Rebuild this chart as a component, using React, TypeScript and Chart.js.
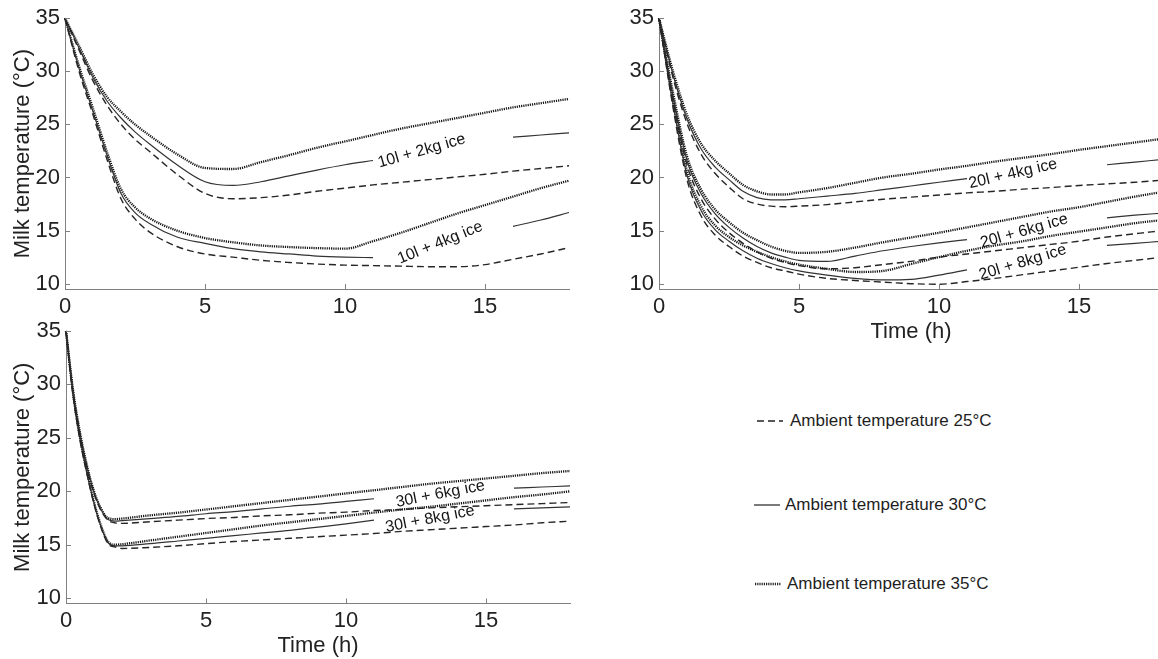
import React, { useEffect, useRef } from 'react';
import { Chart, registerables } from 'chart.js';

Chart.register(...registerables);

const FONT = "'Liberation Sans', Arial, Helvetica, sans-serif";

// ---------- shared axis ticks ----------
const xTickValues = [0, 5, 10, 15];
const yTickValues = [10, 15, 20, 25, 30, 35];

// ---------- Top-left panel: 10 l milk ----------
const timeA = [0, 0.5, 1, 1.5, 2, 2.5, 3, 4, 5, 6, 7, 8, 9, 10, 11, 12, 13, 14, 15, 16, 17, 18];
const a2kg35 = [35, 32.4, 29.7, 27.6, 26.2, 25.0, 24.0, 22.2, 20.9, 20.8, 21.45, 22.1, 22.8, 23.4, 24.0, 24.6, 25.1, 25.6, 26.1, 26.6, 27.0, 27.4];
const a2kg30 = [35, 32.2, 29.4, 27.2, 25.6, 24.3, 23.2, 21.2, 19.6, 19.25, 19.6, 20.15, 20.7, 21.2, 21.6, null, null, null, null, 23.8, 24.0, 24.2];
const a2kg25 = [35, 32.0, 29.1, 26.8, 25.0, 23.6, 22.5, 20.3, 18.5, 18.0, 18.1, 18.35, 18.7, 19.0, 19.3, 19.55, 19.8, 20.05, 20.3, 20.6, 20.85, 21.1];
const a4kg35 = [35, 30.5, 26.5, 22.4, 18.9, 17.2, 16.2, 15.0, 14.3, 13.9, 13.6, 13.45, 13.35, 13.3, 14.0, 14.8, 15.7, 16.6, 17.4, 18.2, 19.0, 19.7];
const a4kg30 = [35, 30.3, 26.2, 22.1, 18.5, 16.7, 15.7, 14.4, 13.8, 13.3, 13.0, 12.8, 12.6, 12.5, 12.45, null, null, null, null, 15.4, 16.0, 16.7];
const a4kg25 = [35, 30.0, 25.9, 21.7, 18.0, 16.1, 14.9, 13.5, 12.8, 12.5, 12.2, 12.0, 11.85, 11.75, 11.7, 11.65, 11.6, 11.6, 11.8, 12.3, 12.8, 13.4];

// ---------- Top-right panel: 20 l milk ----------
const timeB = [0, 0.5, 1, 1.5, 2, 2.5, 3, 3.5, 4, 4.5, 5, 6, 7, 8, 9, 10, 11, 12, 13, 14, 15, 16, 17, 18];
const b4kg35 = [35, 30.0, 25.9, 23.2, 21.6, 20.4, 19.3, 18.7, 18.4, 18.4, 18.6, 19.0, 19.5, 20.0, 20.35, 20.75, 21.1, 21.5, 21.85, 22.2, 22.6, 22.95, 23.3, 23.65];
const b4kg30 = [35, 29.7, 25.5, 22.7, 21.0, 19.8, 18.7, 18.1, 17.9, 17.9, 18.0, 18.25, 18.5, 18.85, 19.2, 19.55, 19.9, null, null, null, null, 21.2, 21.45, 21.7];
const b4kg25 = [35, 29.4, 25.1, 22.2, 20.4, 19.1, 18.0, 17.5, 17.3, 17.25, 17.3, 17.45, 17.7, 17.95, 18.15, 18.35, 18.55, 18.7, 18.9, 19.05, 19.25, 19.4, 19.55, 19.75];
const b6kg35 = [35, 28.0, 22.0, 18.9, 17.0, 15.8, 14.8, 14.1, 13.5, 13.1, 12.9, 13.0, 13.4, 13.9, 14.35, 14.8, 15.3, 15.8, 16.3, 16.8, 17.2, 17.7, 18.2, 18.65];
const b6kg30 = [35, 27.7, 21.6, 18.5, 16.6, 15.3, 14.3, 13.5, 12.9, 12.5, 12.2, 12.1, 12.6, 13.1, 13.5, 13.85, 14.15, null, null, null, null, 16.2, 16.45, 16.65];
const b6kg25 = [35, 27.3, 21.2, 18.0, 16.1, 14.8, 13.8, 13.0, 12.4, 12.0, 11.7, 11.4, 11.5, 11.8, 12.1, 12.5, 12.8, 13.1, 13.4, 13.7, 14.0, 14.4, 14.7, 15.0];
const b8kg35 = [35, 27.2, 20.6, 17.3, 15.5, 14.4, 13.6, 13.0, 12.5, 12.1, 11.8, 11.4, 11.1, 11.2, 11.85, 12.5, 13.1, 13.6, 14.0, 14.5, 14.9, 15.3, 15.7, 16.0];
const b8kg30 = [35, 26.9, 20.2, 16.9, 15.1, 14.0, 13.1, 12.4, 11.9, 11.5, 11.2, 10.8, 10.5, 10.35, 10.4, 10.8, 11.3, null, null, null, null, 13.6, 13.8, 14.0];
const b8kg25 = [35, 26.6, 19.8, 16.4, 14.6, 13.5, 12.6, 12.0, 11.5, 11.2, 10.9, 10.5, 10.3, 10.15, 10.0, 9.95, 10.2, 10.5, 10.85, 11.2, 11.55, 11.9, 12.2, 12.5];

// ---------- Bottom panel: 30 l milk ----------
const timeC = [0, 0.25, 0.5, 0.75, 1, 1.25, 1.5, 1.75, 2, 3, 4, 5, 6, 7, 8, 9, 10, 11, 12, 13, 14, 15, 16, 17, 18];
const c6kg35 = [35, 29.5, 25.5, 22.4, 20.0, 18.4, 17.5, 17.4, 17.45, 17.75, 18.0, 18.3, 18.6, 18.9, 19.2, 19.5, 19.8, 20.1, 20.4, 20.7, 20.95, 21.2, 21.45, 21.7, 21.9];
const c6kg30 = [35, 29.4, 25.4, 22.3, 19.9, 18.3, 17.35, 17.2, 17.25, 17.45, 17.65, 17.9, 18.1, 18.35, 18.6, 18.8, 19.05, 19.3, null, null, null, null, 20.3, 20.4, 20.5];
const c6kg25 = [35, 29.3, 25.3, 22.2, 19.8, 18.2, 17.3, 17.05, 17.0, 17.15, 17.3, 17.45, 17.55, 17.7, 17.8, 17.95, 18.05, 18.2, 18.3, 18.45, 18.55, 18.65, 18.75, 18.85, 18.95];
const c8kg35 = [35, 29.2, 25.0, 21.8, 19.0, 16.8, 15.3, 15.0, 15.05, 15.4, 15.75, 16.1, 16.45, 16.8, 17.1, 17.4, 17.7, 18.0, 18.3, 18.55, 18.85, 19.15, 19.45, 19.7, 20.0];
const c8kg30 = [35, 29.1, 24.9, 21.7, 18.9, 16.7, 15.2, 14.9, 14.9, 15.1, 15.35, 15.6, 15.85, 16.1, 16.35, 16.65, 16.95, 17.3, null, null, null, null, 18.35, 18.45, 18.55];
const c8kg25 = [35, 29.0, 24.8, 21.6, 18.8, 16.6, 15.1, 14.8, 14.65, 14.75, 14.9, 15.1, 15.3, 15.45, 15.6, 15.75, 15.9, 16.05, 16.25, 16.4, 16.55, 16.7, 16.85, 17.05, 17.2];

// ---------- curve labels (data coordinates) ----------
const labelsA = [
  { text: '10l + 2kg ice', x: 12.74, y: 22.5, angle: -16 },
  { text: '10l + 4kg ice', x: 13.4, y: 13.85, angle: -22 },
];
const labelsB = [
  { text: '20l + 4kg ice', x: 12.64, y: 20.35, angle: -13 },
  { text: '20l + 6kg ice', x: 13.04, y: 14.95, angle: -16 },
  { text: '20l + 8kg ice', x: 12.99, y: 12.0, angle: -17 },
];
const labelsC = [
  { text: '30l + 6kg ice', x: 13.37, y: 19.75, angle: -11 },
  { text: '30l + 8kg ice', x: 13.0, y: 17.4, angle: -11 },
];

// ---------- legend ----------
const legendItems = [
  { text: 'Ambient temperature 25°C', kind: 'dashed' },
  { text: 'Ambient temperature 30°C', kind: 'solid' },
  { text: 'Ambient temperature 35°C', kind: 'dotted' },
];

const STYLE: Record<string, any> = {
  dashed: { borderColor: '#262626', borderWidth: 1.4, borderDash: [7, 4] },
  solid: { borderColor: '#333333', borderWidth: 1.2, borderDash: [] },
  dotted: { borderColor: '#141414', borderWidth: 2.3, borderDash: [1.2, 1] },
};

function series(times: number[], values: (number | null)[], kind: string) {
  return {
    data: times.map((t, i) => ({ x: t, y: values[i] })),
    ...STYLE[kind],
    pointRadius: 0,
    fill: false,
    spanGaps: false,
    cubicInterpolationMode: 'monotone',
    clip: false,
  };
}

const curveLabelPlugin = {
  id: 'curveLabels',
  afterDatasetsDraw(chart: any, _args: any, opts: any) {
    const { ctx, scales } = chart;
    const items = (opts && opts.items) || [];
    items.forEach((it: any) => {
      const px = scales.x.getPixelForValue(it.x);
      const py = scales.y.getPixelForValue(it.y);
      ctx.save();
      ctx.translate(px, py);
      ctx.rotate((it.angle * Math.PI) / 180);
      ctx.font = `16px ${FONT}`;
      ctx.fillStyle = '#141414';
      ctx.textAlign = 'center';
      ctx.textBaseline = 'middle';
      ctx.fillText(it.text, 0, 0);
      ctx.restore();
    });
  },
};

const innerTickPlugin = {
  id: 'innerTicks',
  afterDraw(chart: any) {
    const { ctx, chartArea, scales } = chart;
    ctx.save();
    ctx.strokeStyle = '#808080';
    ctx.lineWidth = 1;
    scales.x.ticks.forEach((t: any) => {
      const p = Math.round(scales.x.getPixelForValue(t.value)) + 0.5;
      ctx.beginPath();
      ctx.moveTo(p, chartArea.bottom);
      ctx.lineTo(p, chartArea.bottom - 5);
      ctx.stroke();
    });
    scales.y.ticks.forEach((t: any) => {
      const p = Math.round(scales.y.getPixelForValue(t.value)) + 0.5;
      ctx.beginPath();
      ctx.moveTo(chartArea.left, p);
      ctx.lineTo(chartArea.left + 5, p);
      ctx.stroke();
    });
    ctx.restore();
  },
};

interface PanelProps {
  left: number;
  top: number;
  width: number;
  height: number;
  datasets: any[];
  labels: any[];
  yWidth: number;
  xHeight: number;
  padTop: number;
  padRight: number;
  xTitle: boolean;
  yTitle: boolean;
  xTickPad: number;
}

function Panel(p: PanelProps) {
  const ref = useRef<HTMLCanvasElement | null>(null);
  useEffect(() => {
    if (!ref.current) return;
    const tickFont = { size: 22, family: FONT };
    const chart = new Chart(ref.current, {
      type: 'line',
      data: { datasets: p.datasets },
      options: {
        responsive: false,
        maintainAspectRatio: false,
        animation: false,
        layout: { padding: { left: 0, top: p.padTop, right: p.padRight, bottom: 0 } },
        plugins: {
          legend: { display: false },
          tooltip: { enabled: false },
          curveLabels: { items: p.labels },
        } as any,
        scales: {
          x: {
            type: 'linear',
            min: 0,
            max: 18,
            afterBuildTicks: (s: any) => {
              s.ticks = xTickValues.map((v) => ({ value: v }));
            },
            afterFit: (s: any) => {
              s.height = p.xHeight;
            },
            ticks: { font: tickFont, color: '#222', padding: p.xTickPad, maxRotation: 0, autoSkip: false },
            grid: { display: false, drawTicks: false },
            border: { display: true, color: '#808080', width: 1 },
            title: {
              display: p.xTitle,
              text: 'Time (h)',
              font: tickFont,
              color: '#222',
              padding: { top: 0, bottom: 0 },
            },
          },
          y: {
            type: 'linear',
            min: 9.5,
            max: 35,
            afterBuildTicks: (s: any) => {
              s.ticks = yTickValues.map((v) => ({ value: v }));
            },
            afterFit: (s: any) => {
              s.width = p.yWidth;
            },
            ticks: { font: tickFont, color: '#222', padding: 5, autoSkip: false },
            grid: { display: false, drawTicks: false },
            border: { display: true, color: '#808080', width: 1 },
            title: {
              display: p.yTitle,
              text: 'Milk temperature (°C)',
              font: tickFont,
              color: '#222',
              padding: { top: 10, bottom: 0 },
            },
          },
        },
      } as any,
      plugins: [curveLabelPlugin, innerTickPlugin],
    });
    return () => chart.destroy();
  }, []);
  return (
    <canvas
      ref={ref}
      width={p.width}
      height={p.height}
      style={{ position: 'absolute', left: p.left, top: p.top, width: p.width, height: p.height }}
    />
  );
}

function LegendSample({ kind }: { kind: string }) {
  const dash = kind === 'dashed' ? '7 4' : kind === 'dotted' ? '1.2 1' : undefined;
  const w = kind === 'dotted' ? 2.3 : kind === 'dashed' ? 1.4 : 1.2;
  return (
    <svg width={26} height={6} style={{ display: 'block' }}>
      <line x1={0} y1={3} x2={26} y2={3} stroke="#222" strokeWidth={w} strokeDasharray={dash} />
    </svg>
  );
}

export default function App() {
  const dsA = [
    series(timeA, a2kg25, 'dashed'),
    series(timeA, a2kg30, 'solid'),
    series(timeA, a2kg35, 'dotted'),
    series(timeA, a4kg25, 'dashed'),
    series(timeA, a4kg30, 'solid'),
    series(timeA, a4kg35, 'dotted'),
  ];
  const dsB = [
    series(timeB, b4kg25, 'dashed'),
    series(timeB, b4kg30, 'solid'),
    series(timeB, b4kg35, 'dotted'),
    series(timeB, b6kg25, 'dashed'),
    series(timeB, b6kg30, 'solid'),
    series(timeB, b6kg35, 'dotted'),
    series(timeB, b8kg25, 'dashed'),
    series(timeB, b8kg30, 'solid'),
    series(timeB, b8kg35, 'dotted'),
  ];
  const dsC = [
    series(timeC, c6kg25, 'dashed'),
    series(timeC, c6kg30, 'solid'),
    series(timeC, c6kg35, 'dotted'),
    series(timeC, c8kg25, 'dashed'),
    series(timeC, c8kg30, 'solid'),
    series(timeC, c8kg35, 'dotted'),
  ];
  const legendPos = [
    { x: 757, tx: 790, y: 421 },
    { x: 754, tx: 785, y: 505 },
    { x: 755, tx: 787, y: 584 },
  ];
  return (
    <div
      style={{
        position: 'absolute',
        left: 0,
        top: 0,
        width: 1158,
        height: 659,
        overflow: 'hidden',
        background: '#fff',
        fontFamily: FONT,
      }}
    >
      <Panel
        left={0}
        top={0}
        width={580}
        height={320}
        datasets={dsA}
        labels={labelsA}
        yWidth={65}
        xHeight={31}
        padTop={16.5}
        padRight={11}
        xTitle={false}
        yTitle={true}
        xTickPad={5}
      />
      <Panel
        left={590}
        top={0}
        width={580}
        height={345}
        datasets={dsB}
        labels={labelsB}
        yWidth={69}
        xHeight={56}
        padTop={16.5}
        padRight={7}
        xTitle={true}
        yTitle={false}
        xTickPad={5}
      />
      <Panel
        left={0}
        top={300}
        width={580}
        height={359}
        datasets={dsC}
        labels={labelsC}
        yWidth={66}
        xHeight={55.5}
        padTop={31}
        padRight={10}
        xTitle={true}
        yTitle={true}
        xTickPad={4}
      />
      {legendItems.map((it, i) => (
        <React.Fragment key={i}>
          <div style={{ position: 'absolute', left: legendPos[i].x, top: legendPos[i].y - 3 }}>
            <LegendSample kind={it.kind} />
          </div>
          <div
            style={{
              position: 'absolute',
              left: legendPos[i].tx,
              top: legendPos[i].y - 11,
              fontSize: 17,
              lineHeight: '22px',
              color: '#1e1e1e',
              whiteSpace: 'nowrap',
            }}
          >
            {it.text}
          </div>
        </React.Fragment>
      ))}
    </div>
  );
}
